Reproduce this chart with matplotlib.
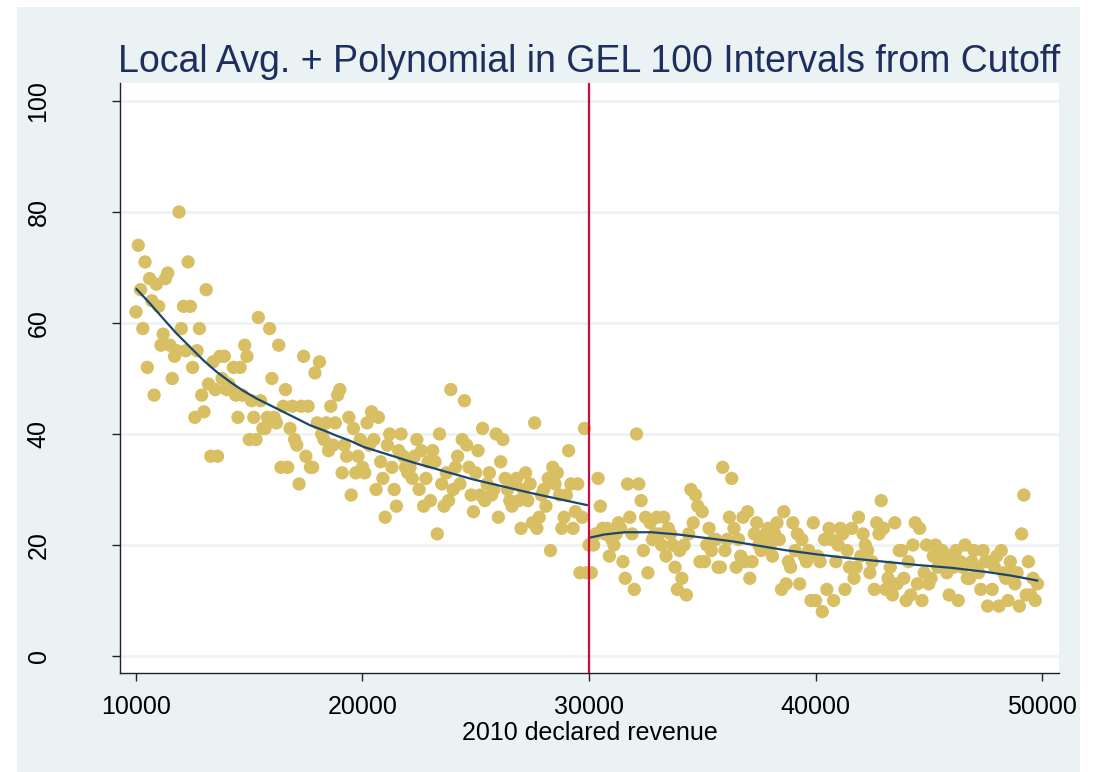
import numpy as np
import matplotlib
matplotlib.use("Agg")
import matplotlib.pyplot as plt
from matplotlib.patches import Rectangle

# revenue bins: GEL 100 intervals, 10000 .. 49800
bins = np.arange(10000, 49900, 100)

# local averages, one row per GEL 1000
share = [
    62, 74, 66, 59, 71, 52, 68, 64, 47, 67,
    63, 56, 58, 68, 69, 56, 50, 54, 55, 80,
    59, 63, 55, 71, 63, 52, 43, 55, 59, 47,
    44, 66, 49, 36, 53, 48, 36, 54, 50, 54,
    48, 49, 48, 52, 47, 43, 52, 47, 56, 54,
    39, 46, 43, 39, 61, 46, 41, 41, 43, 59,
    50, 43, 42, 56, 34, 45, 48, 34, 41, 45,
    39, 38, 31, 45, 54, 36, 45, 34, 34, 51,
    42, 53, 40, 39, 42, 37, 45, 38, 42, 47,
    48, 33, 38, 36, 43, 29, 41, 33, 36, 39,
    34, 33, 42, 38, 44, 39, 30, 43, 35, 32,
    25, 38, 40, 34, 30, 27, 37, 40, 36, 34,
    33, 34, 32, 36, 39, 30, 37, 27, 32, 35,
    28, 37, 35, 22, 40, 31, 27, 33, 28, 48,
    30, 34, 36, 31, 39, 46, 38, 34, 29, 26,
    33, 37, 29, 41, 28, 31, 33, 29, 30, 40,
    25, 35, 39, 32, 30, 28, 27, 31, 32, 28,
    23, 30, 33, 28, 31, 24, 42, 23, 25, 29,
    30, 27, 32, 19, 34, 31, 33, 29, 23, 25,
    29, 37, 31, 23, 26, 31, 15, 25, 41, 15,
    20, 15, 20, 22, 32, 27, 23, 22, 23, 18,
    21, 20, 22, 24, 23, 17, 14, 31, 25, 22,
    12, 40, 31, 28, 19, 25, 15, 24, 21, 22,
    25, 22, 20, 25, 18, 23, 22, 20, 16, 12,
    19, 14, 20, 11, 22, 30, 24, 29, 27, 17,
    26, 17, 20, 23, 19, 21, 21, 16, 16, 34,
    19, 21, 25, 32, 23, 16, 21, 18, 25, 17,
    26, 14, 17, 22, 24, 20, 19, 21, 22, 23,
    20, 18, 22, 24, 21, 12, 26, 13, 17, 16,
    24, 19, 22, 13, 21, 18, 17, 19, 10, 24,
    10, 18, 17, 8, 21, 12, 23, 21, 10, 17,
    20, 23, 22, 12, 19, 16, 23, 14, 16, 25,
    18, 22, 20, 19, 15, 17, 12, 24, 22, 28,
    23, 12, 14, 16, 11, 24, 13, 19, 19, 14,
    10, 17, 11, 20, 24, 13, 23, 10, 15, 20,
    13, 14, 18, 20, 16, 19, 19, 17, 15, 11,
    18, 16, 19, 10, 17, 16, 20, 14, 14, 17,
    19, 16, 15, 12, 19, 17, 9, 17, 12, 16,
    18, 9, 19, 15, 14, 10, 17, 15, 13, 15,
    9, 22, 29, 11, 17, 11, 14, 10, 13,
]

# polynomial fit on each side of the cutoff
fit_left_x = [10030, 10620, 11200, 11790, 12380, 12970, 13560, 14150, 14730,
              15320, 15910, 16500, 17090, 17670, 18260, 18850, 19440, 20030,
              22300, 24900, 27400, 29900]
fit_left_y = [66.1, 63.5, 60.8, 58.1, 55.7, 53.3, 51.2, 49.4, 47.8,
              46.4, 45.2, 44.0, 42.8, 41.6, 40.7, 39.7, 38.8, 37.7,
              34.8, 31.8, 29.4, 27.2]
fit_right_x = [30000, 30680, 31570, 32740, 33920, 35090, 36270, 37440, 38620,
               40090, 41560, 43030, 44500, 45970, 47440, 48620, 49790]
fit_right_y = [21.3, 21.9, 22.3, 22.3, 21.9, 21.3, 20.7, 19.9, 19.1,
               18.3, 17.6, 17.0, 16.4, 15.9, 15.2, 14.5, 13.6]

cutoff = 30000
xticks = [10000, 20000, 30000, 40000, 50000]
yticks = [0, 20, 40, 60, 80, 100]

plt.rcParams['font.family'] = ['Liberation Sans', 'DejaVu Sans']

W, H = 1097, 772
fig = plt.figure(figsize=(W / 100, H / 100), dpi=100, facecolor='white')
# light outer panel behind the plot region
fig.patches.append(Rectangle((17 / W, 0), (1080 - 17) / W, 1 - 7 / H,
                             transform=fig.transFigure, facecolor='#EAF2F3',
                             edgecolor='none', zorder=-5))

ax = fig.add_axes([120 / W, 1 - 673 / H, (1059 - 120) / W, (673 - 83) / H])
ax.set_zorder(2)
ax.set_facecolor('white')
ax.set_xlim(9294, 50750)
ax.set_ylim(-3.06, 103.24)

ax.yaxis.grid(True, color='#EAF2F3', linewidth=1.8)
ax.set_axisbelow(True)

ax.scatter(bins, share, s=92, color='#D9BF64', edgecolor='none', zorder=2)
ax.plot(fit_left_x, fit_left_y, color='#1A476F', linewidth=1.6, zorder=3,
        solid_joinstyle='round')
ax.plot(fit_right_x, fit_right_y, color='#1A476F', linewidth=1.6, zorder=3,
        solid_joinstyle='round')
ax.axvline(cutoff, color='#CC0A3C', linewidth=1.6, zorder=4)

for s in ['top', 'right']:
    ax.spines[s].set_visible(False)
for s in ['left', 'bottom']:
    ax.spines[s].set_linewidth(1.0)
    ax.spines[s].set_color('#222222')

ax.set_xticks(xticks)
ax.set_yticks(yticks)
ax.tick_params(axis='x', length=6, width=1, color='#222222', pad=10,
               labelsize=18, labelcolor='black')
ax.tick_params(axis='y', length=6, width=1, color='#222222', pad=44,
               labelsize=18, labelcolor='black', labelrotation=90)
for lab in ax.get_yticklabels():
    lab.set_verticalalignment('center')

fig.text(590 / W, 1 - 740 / H, '2010 declared revenue', ha='center',
         va='baseline', fontsize=18, color='black')
fig.text(589.5 / W, 1 - 72 / H,
         'Local Avg. + Polynomial in GEL 100 Intervals from Cutoff',
         ha='center', va='baseline', fontsize=27, color='#1E2E5E')

fig.savefig('out.png', dpi=100, facecolor=fig.get_facecolor())
